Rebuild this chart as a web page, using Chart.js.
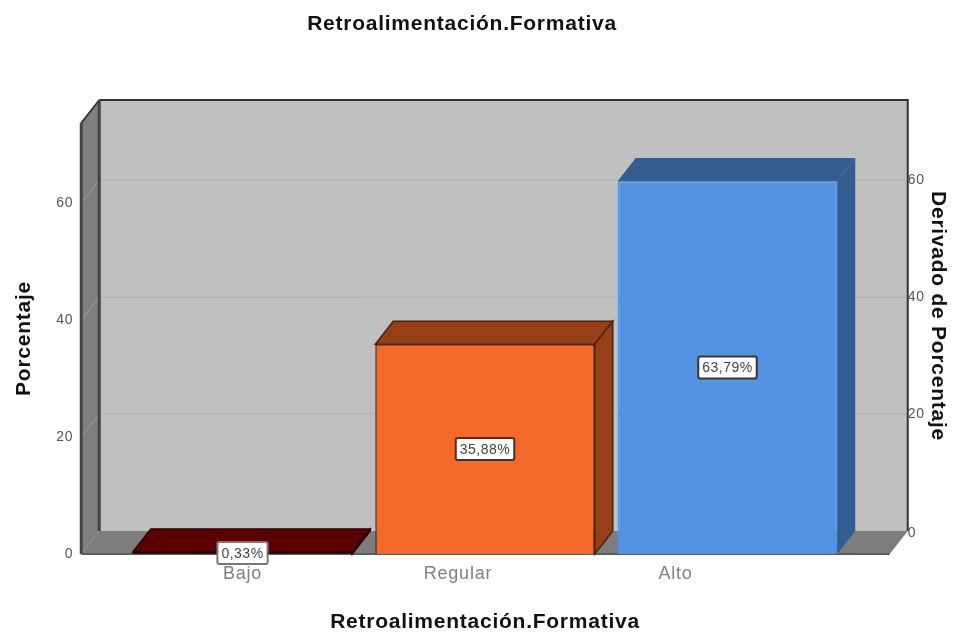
<!DOCTYPE html>
<html>
<head>
<meta charset="utf-8">
<title>Retroalimentación.Formativa</title>
<script src="https://cdn.jsdelivr.net/npm/chart.js@4"></script>
<style>
    html, body { margin: 0; padding: 0; background: #fff; }
    canvas { display: block; filter: blur(0.7px); }
</style>
</head>
<body>
<canvas id="chart" width="957" height="637"></canvas>
<script>
const categories = ['Bajo', 'Regular', 'Alto'];
const percentages = [0.33, 35.88, 63.79];
const pointLabels = ['0,33%', '35,88%', '63,79%'];
const yTicks = [0, 20, 40, 60];

const chartTitle = 'Retroalimentación.Formativa';
const rightTitle = 'Derivado de Porcentaje';

const frontColors = ['#5a0000', '#f46a29', '#5294e2'];
const sideColors = ['#5a0000', '#964018', '#345d8f'];
const edgeColors = ['#2a0000', '#4a2410', '#5294e2'];

// 3D look: how far the back wall sits from the front plane
const depthX = 18;
const depthY = -23;
// the reference's category labels are not centred under the bars
const labelNudge = [0, -27, -52];

const fontName = '"Liberation Sans", Arial, sans-serif';

function poly(ctx, pts, fill, stroke, lineWidth) {
    ctx.beginPath();
    pts.forEach((p, i) => i ? ctx.lineTo(p[0], p[1]) : ctx.moveTo(p[0], p[1]));
    ctx.closePath();
    ctx.fillStyle = fill;
    ctx.fill();
    if (stroke) {
        ctx.strokeStyle = stroke;
        ctx.lineWidth = lineWidth || 1;
        ctx.stroke();
    }
}

const wallsPlugin = {
    id: 'walls',
    beforeDraw(chart) {
        // the reference text is wider than the font, the scale titles and ticks need this too
        chart.ctx.letterSpacing = '0.75px';
    },
    beforeDatasetsDraw(chart) {
        const ctx = chart.ctx;
        const y = chart.scales.y;
        const x0 = chart.chartArea.left - 40;   // front left corner
        const x1 = chart.chartArea.right + 41;  // front right corner
        const top = chart.chartArea.top;
        const base = y.getPixelForValue(0);

        ctx.save();
        // back wall
        poly(ctx, [[x0 + depthX, top + depthY], [x1 + depthX, top + depthY],
            [x1 + depthX, base + depthY], [x0 + depthX, base + depthY]], '#c0c0c0');
        // left wall
        poly(ctx, [[x0, top], [x0 + depthX, top + depthY], [x0 + depthX, base + depthY], [x0, base]], '#7f7f7f');
        // floor
        poly(ctx, [[x0, base], [x0 + depthX, base + depthY], [x1 + depthX, base + depthY], [x1, base]], '#7d7d7d');

        // grid lines on the walls
        yTicks.slice(1).forEach(v => {
            const py = y.getPixelForValue(v);
            ctx.beginPath();
            ctx.moveTo(x0, py);
            ctx.lineTo(x0 + depthX, py + depthY);
            ctx.strokeStyle = '#a0a0a0';
            ctx.lineWidth = 1;
            ctx.stroke();
            ctx.beginPath();
            ctx.moveTo(x0 + depthX, py + depthY);
            ctx.lineTo(x1 + depthX, py + depthY);
            ctx.strokeStyle = '#b2b2b2';
            ctx.stroke();
        });

        // frame edges
        ctx.strokeStyle = '#333';
        ctx.lineWidth = 2;
        ctx.beginPath();
        ctx.moveTo(x0 + depthX, top + depthY);
        ctx.lineTo(x1 + depthX, top + depthY);
        ctx.lineTo(x1 + depthX, base + depthY);
        ctx.moveTo(x0, top);
        ctx.lineTo(x0 + depthX, top + depthY);
        ctx.stroke();
        ctx.lineWidth = 3;
        ctx.strokeStyle = '#444';
        ctx.beginPath();
        ctx.moveTo(x0, base);
        ctx.lineTo(x0, top);
        ctx.moveTo(x0 + depthX, top + depthY);
        ctx.lineTo(x0 + depthX, base + depthY);
        ctx.stroke();
        ctx.lineWidth = 2;
        ctx.strokeStyle = '#5c5c5c';
        ctx.beginPath();
        ctx.moveTo(x0, base);
        ctx.lineTo(x1, base);
        ctx.stroke();
        ctx.restore();
    },
    afterDatasetsDraw(chart) {
        const ctx = chart.ctx;
        const meta = chart.getDatasetMeta(0);
        const y = chart.scales.y;
        const x = chart.scales.x;
        const base = y.getPixelForValue(0);

        ctx.save();
        // top and side faces of each bar
        meta.data.forEach((bar, i) => {
            const l = bar.x - bar.width / 2;
            const r = bar.x + bar.width / 2;
            const edge = edgeColors[i] === frontColors[i] ? null : edgeColors[i];
            poly(ctx, [[l, bar.y], [l + depthX, bar.y + depthY], [r + depthX, bar.y + depthY], [r, bar.y]],
                sideColors[i], edge, 1.5);
            poly(ctx, [[r, bar.y], [r + depthX, bar.y + depthY], [r + depthX, base + depthY], [r, base]],
                sideColors[i], edge, 1.5);
        });

        // value boxes in the middle of the front face
        ctx.font = '14px ' + fontName;
        ctx.letterSpacing = '0.5px';
        ctx.textAlign = 'center';
        ctx.textBaseline = 'middle';
        meta.data.forEach((bar, i) => {
            const cy = (bar.y + base) / 2;
            const w = ctx.measureText(pointLabels[i]).width + 8;
            ctx.beginPath();
            ctx.roundRect(bar.x - w / 2, cy - 11, w, 22, 2);
            ctx.fillStyle = '#fff';
            ctx.fill();
            ctx.strokeStyle = i === 0 ? '#777' : '#4a3022';
            ctx.lineWidth = 2;
            ctx.stroke();
            ctx.fillStyle = '#444';
            ctx.fillText(pointLabels[i], bar.x, cy + 1);
        });

        // category labels
        ctx.font = '18px ' + fontName;
        ctx.letterSpacing = '0.8px';
        ctx.fillStyle = '#7f7f7f';
        categories.forEach((c, i) => {
            ctx.fillText(c, x.getPixelForTick(i) + labelNudge[i], 574);
        });

        // right axis sits on the back wall
        ctx.font = '14px ' + fontName;
        ctx.letterSpacing = '0.75px';
        ctx.textAlign = 'left';
        ctx.fillStyle = '#555';
        yTicks.forEach(v => {
            ctx.fillText(String(v), chart.chartArea.right + 41 + depthX, y.getPixelForValue(v) + depthY + (v === 0 ? 2 : 0));
        });

        // main title and right axis title
        ctx.font = 'bold 21px ' + fontName;
        ctx.fillStyle = '#111';
        ctx.textAlign = 'center';
        ctx.fillText(chartTitle, 462, 24);
        ctx.translate(938, 316);
        ctx.rotate(Math.PI / 2);
        ctx.fillText(rightTitle, 0, 0);
        ctx.restore();
    }
};

new Chart(document.getElementById('chart'), {
    type: 'bar',
    data: {
        labels: categories,
        datasets: [{
            data: percentages,
            backgroundColor: frontColors,
            borderColor: edgeColors,
            borderWidth: 1.5,
            categoryPercentage: 1,
            barPercentage: 0.905
        }]
    },
    options: {
        responsive: false,
        animation: false,
        layout: { padding: { top: 123, right: 108.25 } },
        plugins: {
            legend: { display: false },
            tooltip: { enabled: false }
        },
        scales: {
            x: {
                grid: { display: false },
                border: { display: false },
                ticks: { display: false },
                title: {
                    display: true,
                    text: chartTitle,
                    color: '#111',
                    font: { family: fontName, size: 21, weight: 'bold' },
                    padding: { top: 0, bottom: 2.4 }
                },
                afterFit: s => { s.height = 83; }
            },
            y: {
                min: 0,
                max: 73.7,
                grid: { display: false, drawTicks: false },
                border: { display: false },
                ticks: {
                    stepSize: 20,
                    includeBounds: false,
                    padding: 48,
                    color: '#555',
                    font: { family: fontName, size: 14 }
                },
                title: {
                    display: true,
                    text: 'Porcentaje',
                    color: '#111',
                    font: { family: fontName, size: 21, weight: 'bold' },
                    padding: { top: 11.4, bottom: 0 }
                },
                afterFit: s => { s.width = 121.25; }
            }
        }
    },
    plugins: [wallsPlugin]
});
</script>
</body>
</html>
